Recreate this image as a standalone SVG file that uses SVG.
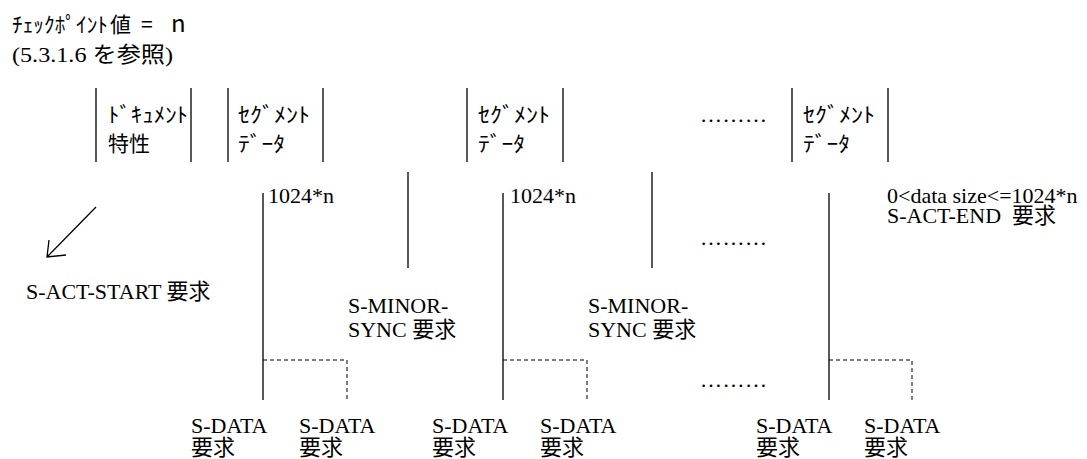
<svg xmlns="http://www.w3.org/2000/svg" width="1087" height="459" viewBox="0 0 1087 459">
  <style>
    .ln { stroke: #000; stroke-width: 1.3; fill: none; }
    .dash { stroke: #000; stroke-width: 1; fill: none; stroke-dasharray: 4 3; }
    .goth { font-family: "Noto Sans CJK JP", "Noto Sans", sans-serif; fill: #000; }
    .ser { font-family: "Liberation Serif", "Noto Sans CJK JP", serif; font-size: 22px; fill: #000; }
    .box { font-size: 21px; }
  </style>
  <rect width="1087" height="459" fill="#fff"/>

  <!-- heading -->
  <g id="heading">
    <text class="goth" y="32" font-size="21"><tspan x="12" textLength="96" lengthAdjust="spacingAndGlyphs">ﾁｪｯｸﾎﾟｲﾝﾄ</tspan><tspan x="110">値</tspan><tspan x="141">=</tspan><tspan x="171" font-size="24">n</tspan></text>
    <text class="ser" x="12" y="62" font-size="23" textLength="161" lengthAdjust="spacingAndGlyphs">(5.3.1.6 を参照)</text>
  </g>

  <!-- data units -->
  <g id="doc-attr">
    <path class="ln" d="M96,88 V162 M191,88 V162"/>
    <text class="goth box" x="108" y="122" textLength="80" lengthAdjust="spacingAndGlyphs">ﾄﾞｷｭﾒﾝﾄ</text>
    <text class="goth box" x="108" y="151">特性</text>
  </g>
  <g id="segment-1">
    <path class="ln" d="M228,88 V162 M323,88 V162"/>
    <text class="goth box" x="238" y="122" textLength="72" lengthAdjust="spacingAndGlyphs">ｾｸﾞﾒﾝﾄ</text>
    <text class="goth box" x="238" y="151" textLength="47" lengthAdjust="spacingAndGlyphs">ﾃﾞｰﾀ</text>
  </g>
  <g id="segment-2">
    <path class="ln" d="M467,88 V162 M563,88 V162"/>
    <text class="goth box" x="478" y="122" textLength="72" lengthAdjust="spacingAndGlyphs">ｾｸﾞﾒﾝﾄ</text>
    <text class="goth box" x="478" y="151" textLength="47" lengthAdjust="spacingAndGlyphs">ﾃﾞｰﾀ</text>
  </g>
  <g id="segment-n">
    <path class="ln" d="M792,88 V162 M888,88 V162"/>
    <text class="goth box" x="803" y="122" textLength="72" lengthAdjust="spacingAndGlyphs">ｾｸﾞﾒﾝﾄ</text>
    <text class="goth box" x="803" y="151" textLength="47" lengthAdjust="spacingAndGlyphs">ﾃﾞｰﾀ</text>
  </g>

  <!-- service primitives -->
  <g id="connectors">
    <!-- S-ACT-START arrow -->
    <path class="ln" d="M96,207 L47,257 M49,240 L47,257 L66,255"/>
    <!-- S-DATA ticks -->
    <path class="ln" d="M263,193 V400 M503,193 V400 M829,193 V400"/>
    <path class="dash" d="M263,360 H347 V400 M503,360 H587 V400 M829,360 H912 V400"/>
    <!-- S-MINOR-SYNC ticks -->
    <path class="ln" d="M408,172 V268 M652,172 V268"/>
  </g>

  <g id="labels">
    <text class="ser" x="700" y="122" letter-spacing="0.5">………</text>
    <text class="ser" x="700" y="245" letter-spacing="0.5">………</text>
    <text class="ser" x="700" y="387" letter-spacing="0.5">………</text>

    <text class="ser" x="268" y="203">1024*n</text>
    <text class="ser" x="510" y="203">1024*n</text>
    <text class="ser" x="887" y="203">0&lt;data size&lt;=1024*n</text>
    <text class="ser" x="887" y="223" xml:space="preserve">S-ACT-END  要求</text>

    <text class="ser" x="26" y="299">S-ACT-START 要求</text>

    <text class="ser" x="348" y="313">S-MINOR-</text>
    <text class="ser" x="348" y="337">SYNC 要求</text>
    <text class="ser" x="588" y="313">S-MINOR-</text>
    <text class="ser" x="588" y="337">SYNC 要求</text>

    <text class="ser" x="191" y="433">S-DATA</text>
    <text class="ser" x="191" y="455">要求</text>
    <text class="ser" x="299" y="433">S-DATA</text>
    <text class="ser" x="299" y="455">要求</text>
    <text class="ser" x="432" y="433">S-DATA</text>
    <text class="ser" x="432" y="455">要求</text>
    <text class="ser" x="540" y="433">S-DATA</text>
    <text class="ser" x="540" y="455">要求</text>
    <text class="ser" x="756" y="433">S-DATA</text>
    <text class="ser" x="756" y="455">要求</text>
    <text class="ser" x="864" y="433">S-DATA</text>
    <text class="ser" x="864" y="455">要求</text>
  </g>
</svg>
